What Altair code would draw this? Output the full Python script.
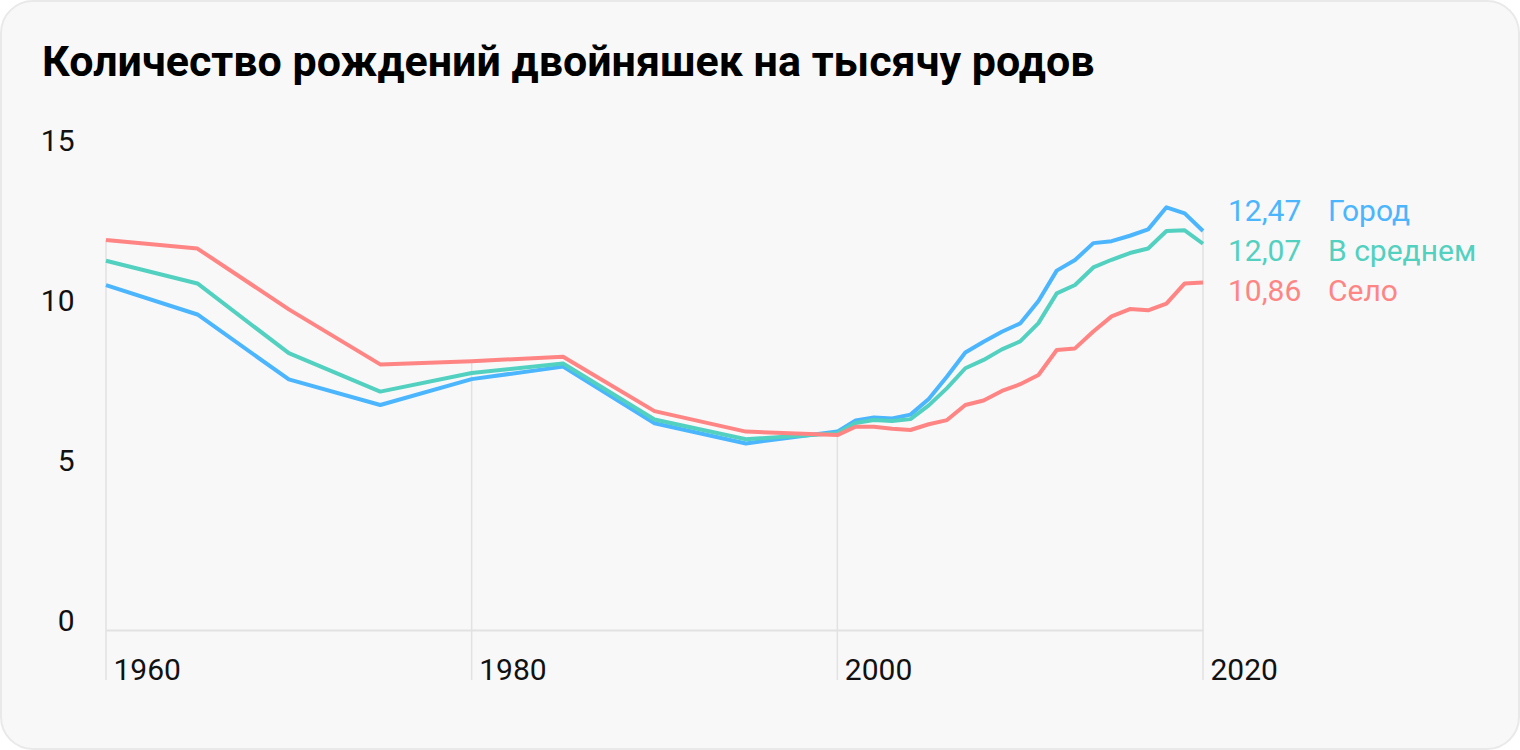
import altair as alt
import pandas as pd

years = [1960, 1965, 1970, 1975, 1980, 1985, 1990, 1995, 2000, 2001, 2002, 2003, 2004,
         2005, 2006, 2007, 2008, 2009, 2010, 2011, 2012, 2013, 2014, 2015, 2016, 2017,
         2018, 2019, 2020]

city = [10.78, 9.86, 7.83, 7.03, 7.84, 8.23, 6.46, 5.83, 6.20, 6.55, 6.64, 6.61, 6.73,
        7.22, 7.92, 8.67, 9.01, 9.32, 9.58, 10.28, 11.23, 11.56, 12.09, 12.15, 12.32, 12.52,
        13.21, 13.02, 12.47]
average = [11.54, 10.83, 8.65, 7.45, 8.03, 8.33, 6.58, 5.96, 6.15, 6.47, 6.56, 6.53, 6.59,
           7.02, 7.56, 8.18, 8.44, 8.77, 9.02, 9.59, 10.52, 10.78, 11.33, 11.57, 11.78, 11.92,
           12.47, 12.49, 12.07]
village = [12.19, 11.92, 10.02, 8.30, 8.40, 8.54, 6.84, 6.20, 6.09, 6.35, 6.35, 6.29, 6.25,
           6.43, 6.56, 7.03, 7.17, 7.47, 7.68, 7.97, 8.75, 8.80, 9.33, 9.80, 10.03, 9.99,
           10.20, 10.83, 10.86]

series_names = ["Город", "В среднем", "Село"]
series_colors = ["#4bb5fd", "#52d0c0", "#ff8584"]
x_ticks = [1960, 1980, 2000, 2020]
y_ticks = [0, 5, 10, 15]
title_text = "Количество рождений двойняшек на тысячу родов"

rows = []
for name, vals in zip(series_names, [city, average, village]):
    for y, v in zip(years, vals):
        rows.append({"year": y, "series": name, "value": v})
df = pd.DataFrame(rows)

FONT = "Roboto"
W, H = 1097, 480
color = alt.Color("series:N", scale=alt.Scale(domain=series_names, range=series_colors), legend=None)

card = alt.Chart(pd.DataFrame({"k": [0]})).mark_rect(
    fill="#f8f8f8", stroke="#e9e9e9", strokeWidth=2, cornerRadius=32
).encode(x=alt.value(-105), x2=alt.value(1413), y=alt.value(-149), y2=alt.value(599))

drops = alt.Chart(df).transform_filter(
    alt.FieldOneOfPredicate(field="year", oneOf=x_ticks)
).mark_rule(color="#e2e2e2", strokeWidth=1.5).encode(
    x=alt.X("year:Q"),
    y=alt.Y("max(value):Q"),
    y2=alt.value(H + 50),
)

lines = alt.Chart(df).mark_line(strokeWidth=4, strokeJoin="round", strokeCap="butt").encode(
    x=alt.X("year:Q", scale=alt.Scale(domain=[1960, 2020], nice=False, zero=False),
            axis=alt.Axis(values=x_ticks, format="d", title=None, grid=False, ticks=False,
                          domain=True, domainColor="#e2e2e2", domainWidth=2, zindex=1,
                          labelAlign="left", labelBaseline="alphabetic", labelPadding=49,
                          labelOffset=7, labelFontSize=30, labelFont=FONT, labelColor="#111111",
                          labelFlush=False, labelBound=False, labelOverlap=False)),
    y=alt.Y("value:Q", scale=alt.Scale(domain=[0, 15], nice=False),
            axis=alt.Axis(values=y_ticks, title=None, grid=False, ticks=False, domain=False,
                          zindex=1,
                          labelAlign="right", labelBaseline="alphabetic", labelPadding=32,
                          labelFontSize=30, labelFont=FONT, labelColor="#111111")),
    color=color,
    detail="series:N",
)

label_base = alt.Chart(df).transform_filter(
    alt.datum.year == 2020
).transform_joinaggregate(
    mean_v="mean(value)"
).transform_window(
    idx="row_number()", sort=[alt.SortField("value", order="descending")]
).transform_calculate(
    label_y="datum.mean_v + (2 - datum.idx) * 1.25",
    val_txt="replace(format(datum.value, '.2f'), '.', ',')",
)

val_labels = label_base.mark_text(align="left", baseline="middle", dx=25, fontSize=30, font=FONT).encode(
    x="year:Q", y="label_y:Q", text="val_txt:N", color=color
)
name_labels = label_base.mark_text(align="left", baseline="middle", dx=125, fontSize=30, font=FONT).encode(
    x="year:Q", y="label_y:Q", text="series:N", color=color
)

chart = alt.layer(card, drops, lines, val_labels, name_labels).properties(
    width=W, height=H,
    padding={"left": 106, "top": 150, "right": 1520 - 106 - W, "bottom": 750 - 150 - H},
    autosize=alt.AutoSizeParams(type="none"),
    background="#ffffff",
    title=alt.TitleParams(text=title_text, anchor="start", frame="group", dx=-64, offset=-78,
                          dy=41, fontSize=43, font=FONT, fontWeight="bold", color="#000000",
                          baseline="alphabetic", zindex=1),
).configure_view(stroke=None)

chart.save("out.html", embed_options={"renderer": "svg", "actions": False})
